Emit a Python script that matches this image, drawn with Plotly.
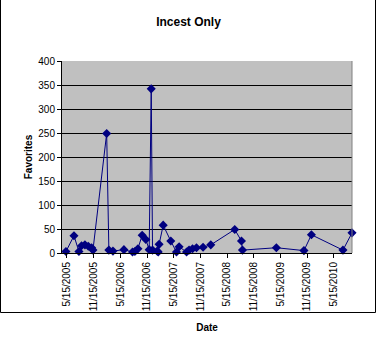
import plotly.graph_objects as go

dates = ["2005-05-08", "2005-07-02", "2005-08-05", "2005-08-23", "2005-09-15", "2005-10-08",
         "2005-10-31", "2005-11-09", "2006-02-11", "2006-02-26", "2006-03-26", "2006-06-09",
         "2006-08-07", "2006-08-23", "2006-09-13", "2006-10-12", "2006-11-06", "2006-11-29",
         "2006-12-13", "2006-12-22", "2007-01-23", "2007-01-30", "2007-02-05", "2007-03-05",
         "2007-04-26", "2007-06-04", "2007-06-22", "2007-08-12", "2007-08-29", "2007-09-22",
         "2007-10-19", "2007-12-03", "2008-01-25", "2008-07-07", "2008-08-22", "2008-08-29",
         "2009-04-18", "2009-10-24", "2009-12-14", "2010-07-18", "2010-09-18"]
favorites = [3, 36, 3, 15, 17, 14,
             11, 6, 249, 6, 4, 7,
             2, 3, 9, 37, 28, 7,
             342, 6, 4, 2, 18, 58,
             25, 2, 13, 2, 6, 9,
             11, 12, 17, 49, 25, 6,
             11, 5, 38, 6, 42]

tick_dates = ["2005-05-15", "2005-11-15", "2006-05-15", "2006-11-15", "2007-05-15", "2007-11-15",
              "2008-05-15", "2008-11-15", "2009-05-15", "2009-11-15", "2010-05-15"]
tick_labels = ["5/15/2005", "11/15/2005", "5/15/2006", "11/15/2006", "5/15/2007", "11/15/2007",
               "5/15/2008", "11/15/2008", "5/15/2009", "11/15/2009", "5/15/2010"]
y_ticks = [0, 50, 100, 150, 200, 250, 300, 350, 400]

W, H = 377, 354
ML, MR, MT, MB = 62, 25, 61, 101
PW, PH = W - ML - MR, H - MT - MB

fig = go.Figure()
fig.add_trace(go.Scatter(
    x=dates, y=favorites, mode="lines+markers",
    line=dict(color="#000080", width=1),
    marker=dict(symbol="diamond", size=7, color="#000080"),
    cliponaxis=False, showlegend=False,
))

font = "Liberation Sans, Arial, sans-serif"
fig.update_layout(
    width=W, height=H,
    margin=dict(l=ML, r=MR, t=MT, b=MB, pad=0),
    paper_bgcolor="white", plot_bgcolor="#C0C0C0",
    font=dict(family=font, size=10, color="black"),
    title=dict(text="<b>Incest Only</b>", x=0.5, xanchor="center", y=1 - 22 / H, yanchor="middle",
               font=dict(size=12, family=font, color="black")),
    xaxis=dict(
        type="date", range=["2005-04-11", "2010-09-18"],
        tickvals=tick_dates, ticktext=tick_labels, tickangle=-90,
        showgrid=False, zeroline=False,
        showline=True, linecolor="black", linewidth=1,
        ticks="outside", ticklen=4, tickcolor="black",
        tickfont=dict(size=10, family=font),
        title=dict(text="<b>Date</b>", font=dict(size=10, family=font), standoff=13),
    ),
    yaxis=dict(
        range=[0, 400], tickvals=y_ticks,
        showgrid=True, gridcolor="black", gridwidth=1,
        zeroline=False,
        showline=True, linecolor="black", linewidth=1,
        ticks="outside", ticklen=4, tickcolor="black",
        tickfont=dict(size=10, family=font),
        title=dict(text="<b>Favorites</b>", font=dict(size=10, family=font), standoff=3),
    ),
)

# right border of plot area (gray)
fig.add_shape(type="line", xref="paper", yref="paper", x0=1, x1=1, y0=0, y1=1,
              line=dict(color="#808080", width=1))
# outer chart border
fig.add_shape(type="rect", xref="paper", yref="paper",
              x0=(0.5 - ML) / PW, x1=(W - 1.5 - ML) / PW,
              y0=(PH + MB - (H - 1.5)) / PH, y1=(PH + MB - 0.5) / PH,
              line=dict(color="black", width=1), fillcolor="rgba(0,0,0,0)", layer="below")

fig.write_html("out.html")
